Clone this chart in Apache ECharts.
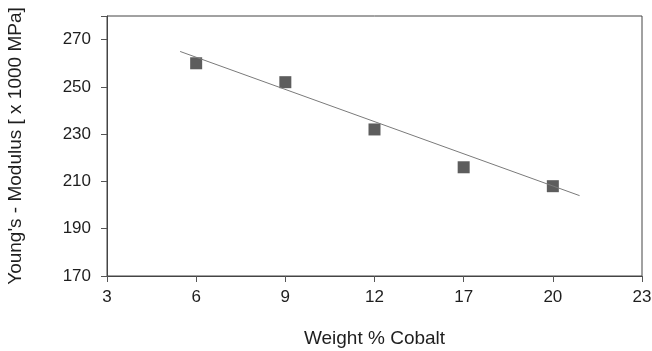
<!DOCTYPE html>
<html>
<head>
<meta charset="utf-8">
<script src="https://cdn.jsdelivr.net/npm/echarts@6/dist/echarts.min.js"></script>
<style>
  html, body { margin: 0; padding: 0; background: #fff; }
  #chart { width: 652px; height: 351px; }
</style>
</head>
<body>
<div id="chart"></div>
<script>
// tick labels on the x axis are evenly spaced, so positions are indices
const xLabels = ['3', '6', '9', '12', '17', '20', '23'];
const cobalt = ['6', '9', '12', '17', '20'];
const modulus = [260, 252, 232, 216, 208];
// fitted line (x in tick-index units)
const trendX = [0.82, 5.3];
const trendY = [265, 204];

const points = cobalt.map((c, i) => [xLabels.indexOf(c), modulus[i]]);
const trend = trendX.map((x, i) => [x, trendY[i]]);

const ink = '#1e1e1e';
const font = 'Liberation Sans, Arial, sans-serif';

const chart = echarts.init(document.getElementById('chart'));
chart.setOption({
  animation: false,
  grid: { left: 107, right: 10, top: 16, bottom: 75, outerBoundsMode: 'none',
    show: true, borderColor: '#444', borderWidth: 1 },
  xAxis: {
    type: 'value', min: 0, max: 6, interval: 1,
    name: 'Weight % Cobalt', nameLocation: 'middle', nameGap: 53,
    nameTextStyle: { color: ink, fontSize: 19, fontFamily: font },
    axisLine: { lineStyle: { color: '#444', width: 1 } },
    axisTick: { show: true, length: 6, lineStyle: { color: '#555' } },
    axisLabel: { color: ink, fontSize: 17, fontFamily: font, margin: 13,
      formatter: v => xLabels[v] },
    splitLine: { show: false }
  },
  yAxis: {
    type: 'value', min: 170, max: 280, interval: 20,
    name: "Young's - Modulus [ x 1000 MPa]", nameLocation: 'middle', nameGap: 82,
    nameTextStyle: { color: ink, fontSize: 19, fontFamily: font },
    axisLine: { show: true, lineStyle: { color: '#444', width: 1 } },
    axisTick: { show: true, length: 6, lineStyle: { color: '#555' } },
    axisLabel: { color: ink, fontSize: 17, fontFamily: font, margin: 16,
      formatter: v => (v === 280 ? '' : v) },
    splitLine: { show: false }
  },
  series: [
    {
      type: 'line', data: trend, symbol: 'none',
      lineStyle: { color: '#7a7a7a', width: 1 }
    },
    {
      type: 'scatter', data: points, symbol: 'rect', symbolSize: 12,
      itemStyle: { color: '#353535' }
    }
  ]
});
</script>
</body>
</html>
